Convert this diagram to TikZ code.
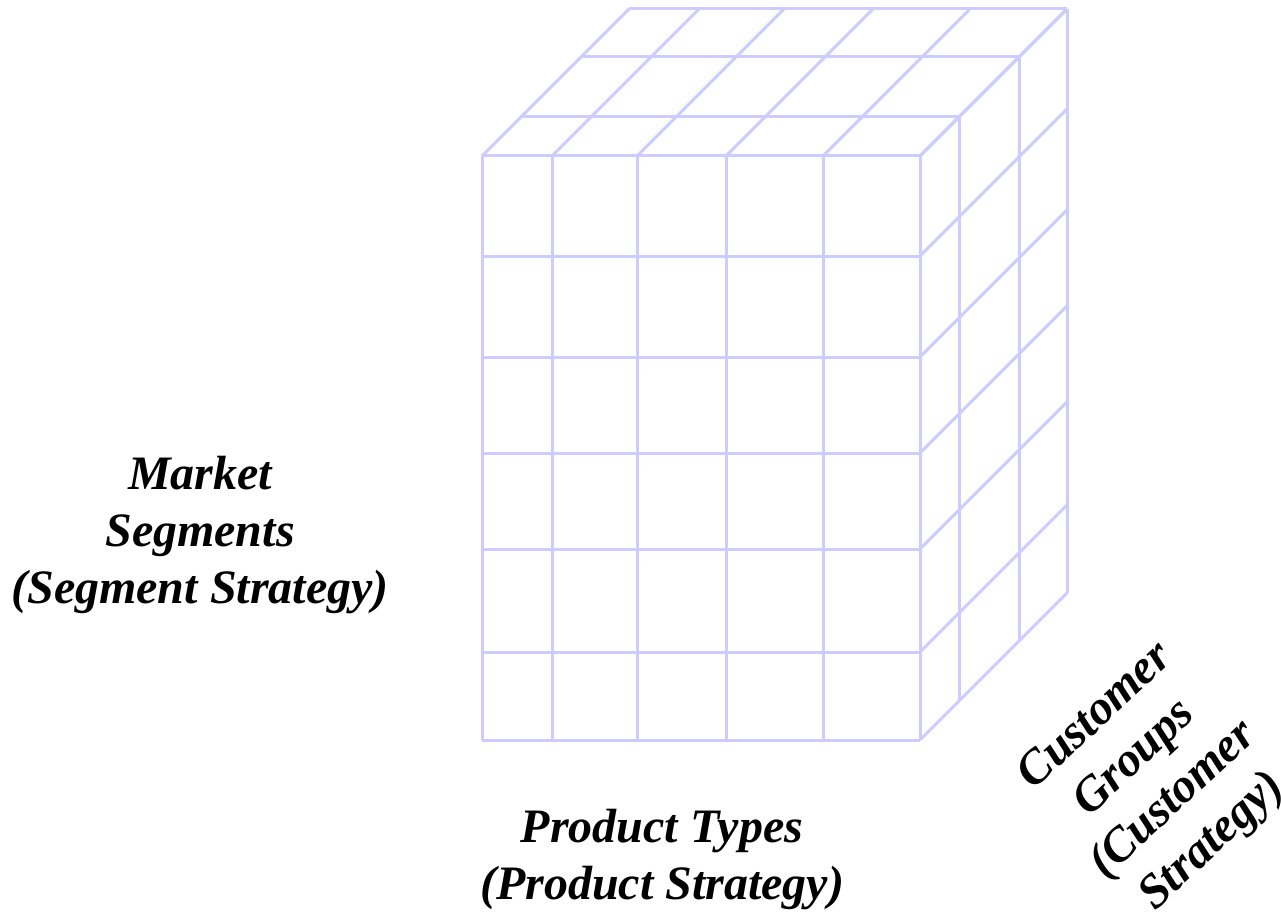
\documentclass[tikz,border=0pt]{standalone}
\usepackage{fontspec}
\setmainfont{Liberation Serif}
\definecolor{gridc}{RGB}{204,204,255}
\begin{document}
\begin{tikzpicture}[x=1pt,y=-1pt,
  gridline/.style={draw=gridc,line width=3pt},
  lbl/.style={font=\fontsize{48}{57}\selectfont\bfseries\itshape,align=center,inner sep=0pt,text=black}]
\useasboundingbox (0,0) rectangle (1281,920);
% front face
\foreach \y in {156,256,357,453,549,652,740}
  \draw[gridline] (482,\y) -- (920,\y);
\foreach \x in {482,552,637,726,823,920}
  \draw[gridline] (\x,156) -- (\x,740);
% top face
\foreach \x in {482,552,637,726,823,920}
  \draw[gridline] (\x,156) -- ({\x+147},9);
\foreach \d in {39,99,147}
  \draw[gridline] ({482+\d},{156-\d}) -- ({920+\d},{156-\d});
% right face
\foreach \y in {156,256,357,453,549,652,740}
  \draw[gridline] (920,\y) -- (1067,{\y-147});
\foreach \d in {39,99,147}
  \draw[gridline] ({920+\d},{156-\d}) -- ({920+\d},{740-\d});
% labels
\node[lbl] (market) at (200,535) {Market\\Segments\\(Segment Strategy)};
\node[lbl] (product) at (662,860) {Product Types\\(Product Strategy)};
\node[lbl,rotate=43] (customer) at (1155,780) {Customer\\Groups\\(Customer\\Strategy)};
\end{tikzpicture}
\end{document}
